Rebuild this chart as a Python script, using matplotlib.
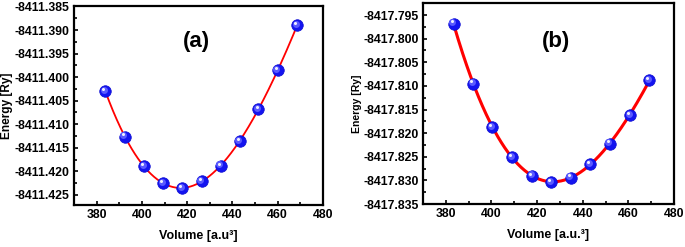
import numpy as np
import matplotlib
matplotlib.use('Agg')
import matplotlib.pyplot as plt
import matplotlib.transforms as mtransforms
from matplotlib.ticker import MultipleLocator, FormatStrFormatter

plt.rcParams['font.family'] = ['Liberation Sans', 'DejaVu Sans']
plt.rcParams['font.weight'] = 'bold'

# volumes [a.u.^3] and total energies [Ry]
vol_a = [383.8, 392.4, 400.9, 409.4, 417.9, 426.4, 434.8, 443.2, 451.5, 460.0, 468.7]
ene_a = [-8411.4029, -8411.4126, -8411.4189, -8411.4225, -8411.4235, -8411.4221,
         -8411.4188, -8411.4135, -8411.4068, -8411.3985, -8411.3889]

vol_b = [383.4, 391.9, 400.4, 409.1, 417.7, 426.2, 434.7, 443.3, 451.8, 460.7, 469.2]
ene_b = [-8417.7968, -8417.8095, -8417.8187, -8417.8251, -8417.8290, -8417.8303,
         -8417.8294, -8417.8266, -8417.8222, -8417.8162, -8417.8088]

panels = [
    dict(v=vol_a, e=ene_a, tag='(a)', xlabel='Volume [a.u\u00b3]',
         ylim=(-8411.42713, -8411.38490), ylab_size=8.6, lw=1.3,
         rect=[74/685, 1-205/247, 249/685, 199/247], tagpos=(0.49, 0.82)),
    dict(v=vol_b, e=ene_b, tag='(b)', xlabel='Volume [a.u.\u00b3]',
         ylim=(-8417.835, -8417.79246), ylab_size=7.5, lw=2.2,
         rect=[423/685, 1-204/247, 251/685, 201/247], tagpos=(0.53, 0.81)),
]

fig = plt.figure(figsize=(6.85, 2.47), dpi=100)

for p in panels:
    ax = fig.add_axes(p['rect'])
    v = np.array(p['v'])
    e = np.array(p['e'])

    # E(V) fit through the computed points
    vm, em = v.mean(), e.mean()
    coef = np.polyfit(v - vm, e - em, 3)
    vf = np.linspace(v.min(), v.max(), 300)
    ax.plot(vf, np.polyval(coef, vf - vm) + em, color='#ff0000', lw=p['lw'], zorder=2)

    # shaded "ball" markers
    ax.plot(v, e, 'o', ms=8.3, color='#1414f0', mec='#0a0ad0', mew=0.5, zorder=3)
    off1 = mtransforms.offset_copy(ax.transData, fig=fig, x=-0.9, y=0.9, units='points')
    ax.plot(v, e, 'o', ms=5.0, color='#5a5aff', mew=0, transform=off1, zorder=4)
    off2 = mtransforms.offset_copy(ax.transData, fig=fig, x=-1.4, y=1.5, units='points')
    ax.plot(v, e, 'o', ms=2.2, color='white', mew=0, alpha=0.9, transform=off2, zorder=5)

    ax.set_xlim(370, 480)
    ax.set_ylim(*p['ylim'])
    ax.xaxis.set_major_locator(MultipleLocator(20))
    ax.xaxis.set_minor_locator(MultipleLocator(10))
    ax.yaxis.set_major_locator(MultipleLocator(0.005))
    ax.yaxis.set_minor_locator(MultipleLocator(0.0025))
    ax.yaxis.set_major_formatter(FormatStrFormatter('%.3f'))
    ax.tick_params(which='both', direction='in', top=False, right=False,
                   labelsize=8.8, width=1.2, pad=3)
    ax.tick_params(which='major', length=3)
    ax.tick_params(which='minor', length=2)
    for lab in ax.get_xticklabels() + ax.get_yticklabels():
        lab.set_fontweight('bold')
    for s in ax.spines.values():
        s.set_linewidth(1.6)

    ax.set_xlabel(p['xlabel'], fontsize=9, fontweight='bold', labelpad=6)
    ax.set_ylabel('Energy [Ry]', fontsize=p['ylab_size'], fontweight='bold', labelpad=1)
    ax.text(p['tagpos'][0], p['tagpos'][1], p['tag'], transform=ax.transAxes,
            fontsize=16, fontweight='bold', ha='center', va='center')

fig.savefig('out.png', dpi=100)
